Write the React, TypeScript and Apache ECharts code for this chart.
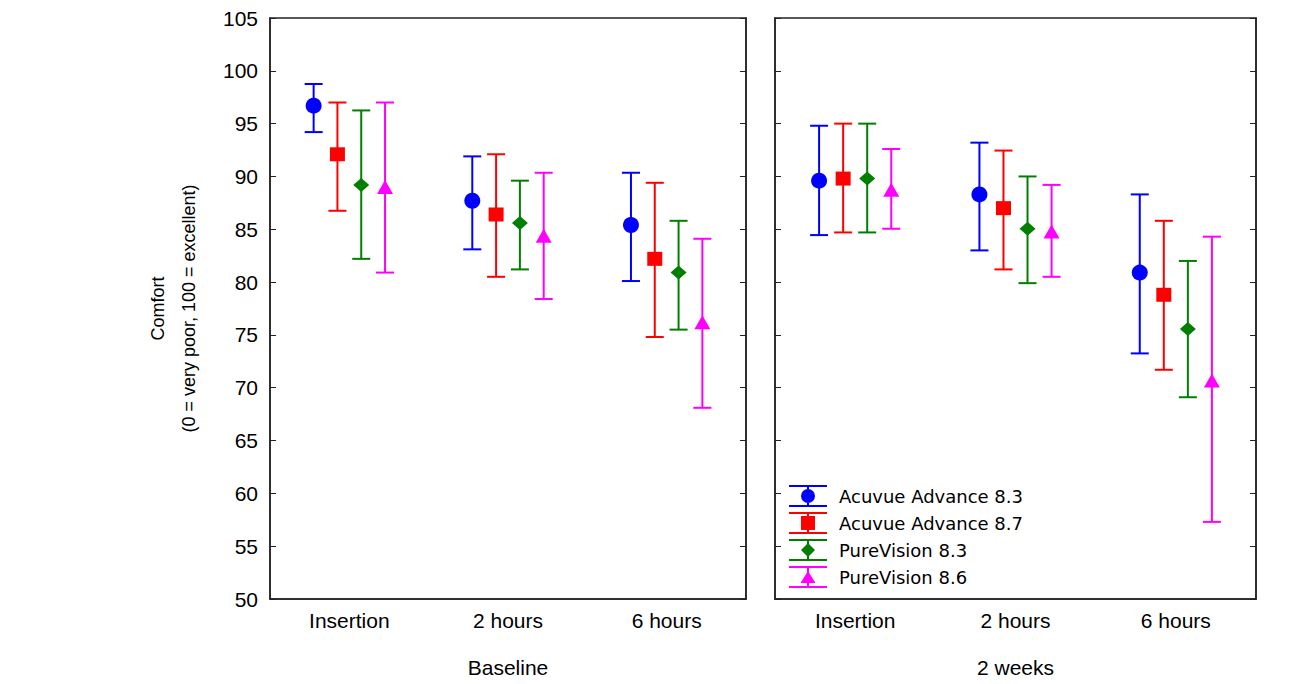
import React, { useEffect, useRef } from "react";
import * as echarts from "echarts";

const categories = ["Insertion", "2 hours", "6 hours"];
const panelNames = ["Baseline", "2 weeks"];
const seriesNames = ["Acuvue Advance 8.3", "Acuvue Advance 8.7", "PureVision 8.3", "PureVision 8.6"];
const seriesColors = ["#0000FF", "#FF0000", "#007F00", "#FF00FF"];
const yTicks = { min: 50, max: 105, interval: 5 };

// Baseline panel: mean, lower and upper whisker
const baseAA83Mean = [96.7, 87.7, 85.4];
const baseAA83Low = [94.2, 83.1, 80.1];
const baseAA83High = [98.75, 91.9, 90.35];
const baseAA87Mean = [92.1, 86.4, 82.2];
const baseAA87Low = [86.75, 80.5, 74.8];
const baseAA87High = [97.0, 92.1, 89.4];
const basePV83Mean = [89.2, 85.6, 80.9];
const basePV83Low = [82.2, 81.2, 75.5];
const basePV83High = [96.25, 89.6, 85.8];
const basePV86Mean = [88.9, 84.3, 76.1];
const basePV86Low = [80.9, 78.4, 68.1];
const basePV86High = [97.0, 90.35, 84.1];

// 2 weeks panel
const wkAA83Mean = [89.6, 88.3, 80.9];
const wkAA83Low = [84.45, 83.0, 73.25];
const wkAA83High = [94.8, 93.2, 88.3];
const wkAA87Mean = [89.8, 87.0, 78.8];
const wkAA87Low = [84.7, 81.2, 71.7];
const wkAA87High = [95.0, 92.45, 85.8];
const wkPV83Mean = [89.8, 85.05, 75.55];
const wkPV83Low = [84.7, 79.9, 69.1];
const wkPV83High = [95.0, 90.0, 82.0];
const wkPV86Mean = [88.65, 84.7, 70.6];
const wkPV86Low = [85.05, 80.5, 57.3];
const wkPV86High = [92.6, 89.2, 84.3];

const panels = [
  [
    [baseAA83Mean, baseAA83Low, baseAA83High],
    [baseAA87Mean, baseAA87Low, baseAA87High],
    [basePV83Mean, basePV83Low, basePV83High],
    [basePV86Mean, basePV86Low, basePV86High],
  ],
  [
    [wkAA83Mean, wkAA83Low, wkAA83High],
    [wkAA87Mean, wkAA87Low, wkAA87High],
    [wkPV83Mean, wkPV83Low, wkPV83High],
    [wkPV86Mean, wkPV86Low, wkPV86High],
  ],
];

const markerKinds = ["circle", "square", "diamond", "triangle"];

const legendIcons = [
  "path://M0 0H38V2H0Z M0 20H38V22H0Z M18 2H20V20H18Z M12 11A7 7 0 1 1 26 11A7 7 0 1 1 12 11Z",
  "path://M0 0H38V2H0Z M0 20H38V22H0Z M18 2H20V20H18Z M12 4H26V18H12Z",
  "path://M0 0H38V2H0Z M0 20H38V22H0Z M18 2H20V20H18Z M19 4L26 11L19 18L12 11Z",
  "path://M0 0H38V2H0Z M0 20H38V22H0Z M18 2H20V20H18Z M19 5L26.5 17H11.5Z",
];

function makeRender(idx: number) {
  const kind = markerKinds[idx];
  return (params: any, api: any) => {
    const cat = api.value(0);
    const mean = api.value(1);
    const lo = api.value(2);
    const hi = api.value(3);
    const c = api.coord([cat, mean]);
    const bw = api.size([1, 0])[0];
    const x = c[0] + (idx - 1.5) * 0.15 * bw;
    const y = c[1];
    const yH = api.coord([cat, hi])[1];
    const yL = api.coord([cat, lo])[1];
    const color = api.visual("color");
    const cap = 9;
    const ls = { stroke: color, lineWidth: 2 };
    let marker: any;
    if (kind === "circle") {
      marker = { type: "circle", shape: { cx: x, cy: y, r: 8 }, style: { fill: color } };
    } else if (kind === "square") {
      marker = { type: "rect", shape: { x: x - 7.5, y: y - 7, width: 15, height: 14 }, style: { fill: color } };
    } else if (kind === "diamond") {
      marker = {
        type: "polygon",
        shape: { points: [[x, y - 7], [x + 8, y], [x, y + 7], [x - 8, y]] },
        style: { fill: color },
      };
    } else {
      marker = {
        type: "polygon",
        shape: { points: [[x, y - 8], [x + 8, y + 6], [x - 8, y + 6]] },
        style: { fill: color },
      };
    }
    return {
      type: "group",
      children: [
        { type: "line", shape: { x1: x, y1: yH, x2: x, y2: yL }, style: ls },
        { type: "line", shape: { x1: x - cap, y1: yH, x2: x + cap, y2: yH }, style: ls },
        { type: "line", shape: { x1: x - cap, y1: yL, x2: x + cap, y2: yL }, style: ls },
        marker,
      ],
    };
  };
}

export default function App() {
  const ref = useRef<HTMLDivElement>(null);
  useEffect(() => {
    if (!ref.current) return;
    const chart = echarts.init(ref.current, null, { renderer: "svg" });
    const labelFont = { fontFamily: "Liberation Sans, Arial, sans-serif", color: "#000" };
    const grids = [
      { left: 270, right: 545, top: 18, bottom: 85 },
      { left: 775, right: 35, top: 18, bottom: 85 },
    ].map((g) => ({ ...g, show: true, borderColor: "#222", borderWidth: 1.5, backgroundColor: "transparent" }));

    const xAxes = panelNames.map((name, p) => ({
      type: "category",
      gridIndex: p,
      data: categories,
      name,
      nameLocation: "middle",
      nameGap: 58,
      nameTextStyle: { ...labelFont, fontSize: 21 },
      axisLine: { lineStyle: { color: "#222", width: 1.5 } },
      axisTick: { inside: true, length: 6, alignWithLabel: true, lineStyle: { color: "#222" } },
      axisLabel: { ...labelFont, fontSize: 21, margin: 11 },
      splitLine: { show: false },
    }));

    const yAxes: any[] = [];
    panelNames.forEach((_, p) => {
      yAxes.push({
        type: "value",
        gridIndex: p,
        position: "left",
        min: yTicks.min,
        max: yTicks.max,
        interval: yTicks.interval,
        name: p === 0 ? "Comfort\n(0 = very poor, 100 = excellent)" : "",
        nameLocation: "middle",
        nameGap: 66,
        nameRotate: 90,
        nameTextStyle: { ...labelFont, fontSize: 18, lineHeight: 31, align: "center" },
        axisLine: { show: true, lineStyle: { color: "#222", width: 1.5 } },
        axisTick: { show: true, inside: true, length: 6, lineStyle: { color: "#222" } },
        axisLabel: { show: p === 0, ...labelFont, fontSize: 21, margin: 12 },
        splitLine: { show: false },
      });
      yAxes.push({
        type: "value",
        gridIndex: p,
        position: "right",
        min: yTicks.min,
        max: yTicks.max,
        interval: yTicks.interval,
        axisLine: { show: true, lineStyle: { color: "#222", width: 1.5 } },
        axisTick: { show: true, inside: true, length: 6, lineStyle: { color: "#222" } },
        axisLabel: { show: false },
        splitLine: { show: false },
      });
    });

    const series: any[] = [];
    panels.forEach((panel, p) => {
      panel.forEach((arrs, s) => {
        const [mean, low, high] = arrs;
        series.push({
          type: "custom",
          name: seriesNames[s],
          xAxisIndex: p,
          yAxisIndex: p * 2,
          itemStyle: { color: seriesColors[s] },
          renderItem: makeRender(s),
          encode: { x: 0, y: [1, 2, 3] },
          data: categories.map((_, i) => [i, mean[i], low[i], high[i]]),
          z: 2 + s,
        });
      });
    });

    chart.setOption({
      animation: false,
      backgroundColor: "#fff",
      grid: grids,
      xAxis: xAxes,
      yAxis: yAxes,
      legend: {
        orient: "vertical",
        left: 789,
        top: 485,
        padding: 0,
        itemGap: 5,
        itemWidth: 38,
        itemHeight: 22,
        selectedMode: false,
        data: seriesNames.map((n, i) => ({ name: n, icon: legendIcons[i] })),
        textStyle: { fontFamily: "DejaVu Sans, sans-serif", fontSize: 18, color: "#000", padding: [0, 0, 0, 7] },
      },
      series,
    });
    return () => chart.dispose();
  }, []);
  return <div ref={ref} style={{ position: "fixed", left: 0, top: 0, width: 1291, height: 684 }} />;
}
